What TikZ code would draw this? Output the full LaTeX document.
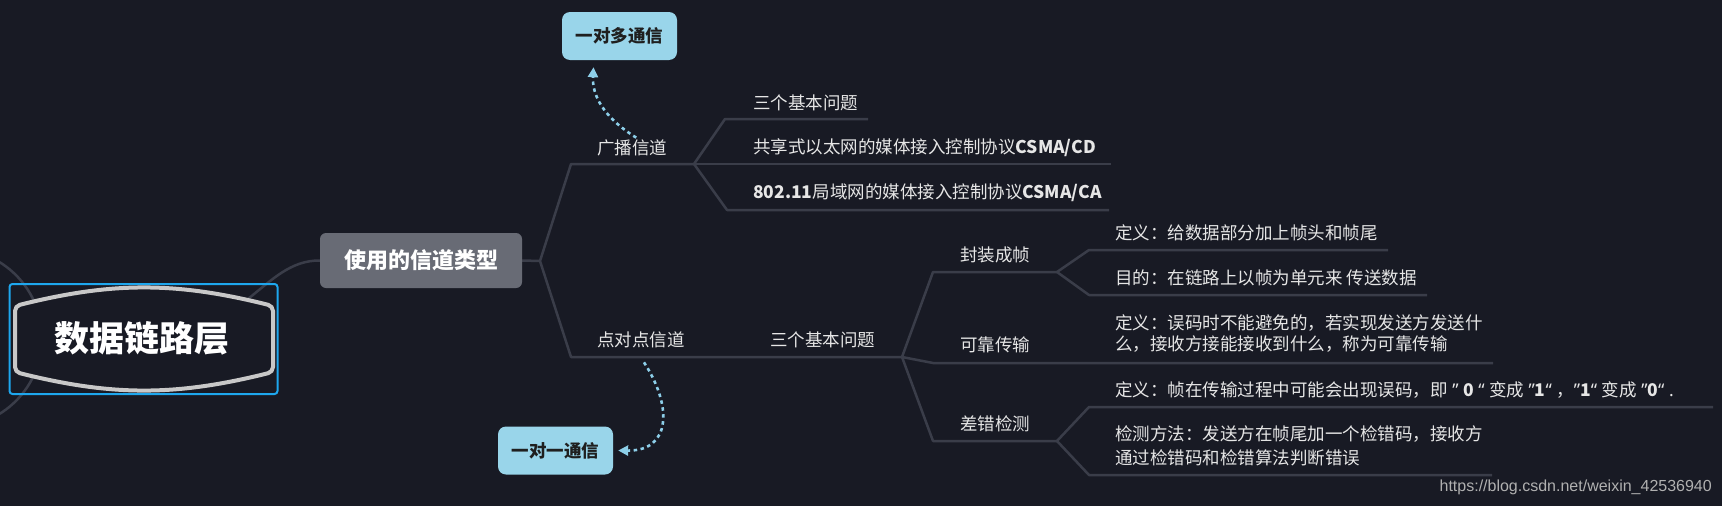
\documentclass[tikz,border=0pt]{standalone}
\usepackage{fontspec}
\setmainfont{Noto Sans CJK SC}
\newfontfamily\wmfont{Liberation Sans}
\newfontfamily\latf{Noto Sans}
\usetikzlibrary{arrows.meta,calc}
\definecolor{bg}{HTML}{181A24}
\definecolor{conncol}{HTML}{3A3D49}
\definecolor{txt}{HTML}{E6E6E6}
\definecolor{boxgray}{HTML}{686B75}
\definecolor{lblue}{HTML}{99D5EA}
\definecolor{dotblue}{HTML}{8DCFE9}
\definecolor{selblue}{HTML}{1EA7EE}
\definecolor{rim}{HTML}{C8C8C8}
\definecolor{wmcol}{HTML}{B0B0B0}
\newcommand{\qd}[1]{{\latf #1}}
\pgfdeclarelayer{back}
\pgfsetlayers{back,main}
\begin{document}
\begin{tikzpicture}[x=1pt,y=-1pt,
  conn/.style={draw=conncol,line width=2.5pt,line join=round},
  lbl/.style={anchor=west,inner sep=0pt,text=txt,font=\fontsize{17.5}{21}\selectfont},
  bluebox/.style={fill=lblue,rounded corners=8pt,minimum width=115pt,minimum height=48pt,inner sep=0pt,text=black!88,font=\bfseries\fontsize{17.5}{21}\selectfont},
  dotarrow/.style={draw=dotblue,line width=2.6pt,dash pattern=on 3.5pt off 3.5pt,-{Triangle[length=10pt,width=10pt]}}
]
\useasboundingbox (0,0) rectangle (1722,506);

% central node
\node[draw=selblue,line width=2pt,rounded corners=3pt,minimum width=268pt,minimum height=110pt,inner sep=0pt] (rootsel) at (143.5,339) {};
\draw[rim,line width=4pt,fill=bg,rounded corners=5pt] (15,340) -- (15,306) to[bend left=14] (273,306) -- (273,372) to[bend left=14] (15,372) -- cycle;
\node[text=white,inner sep=0pt,font=\bfseries\fontsize{35}{40}\selectfont] (root) at (142,338) {数据链路层};

% first level
\node[fill=boxgray,rounded corners=6pt,minimum width=202pt,minimum height=55pt,inner sep=0pt,text=white,font=\bfseries\fontsize{22}{26}\selectfont] (chtype) at (421,260.5) {使用的信道类型};

% labels
\node[lbl] (bc) at (597,148) {广播信道};
\node[lbl] (p2p) at (597,340) {点对点信道};
\node[lbl] (q1) at (753,103) {三个基本问题};
\node[lbl] (cd) at (753,148) {共享式以太网的媒体接入控制协议\textbf{CSMA/CD}};
\node[lbl] (ca) at (753,193) {\textbf{802.11}局域网的媒体接入控制协议\textbf{CSMA/CA}};
\node[lbl] (q2) at (770,340) {三个基本问题};
\node[lbl] (fz) at (960,255) {封装成帧};
\node[lbl] (kk) at (960,345) {可靠传输};
\node[lbl] (cj) at (960,424) {差错检测};
\node[lbl] (fz1) at (1115,233) {定义：给数据部分加上帧头和帧尾};
\node[lbl] (fz2) at (1115,278) {目的：在链路上以帧为单元来 传送数据};
\node[lbl,align=left,font=\fontsize{17.5}{20.5}\selectfont] (kk1) at (1115,333.5) {定义：误码时不能避免的，若实现发送方发送什\\么，接收方接能接收到什么，称为可靠传输};
\node[lbl] (cj1) at (1115,390) {定义：帧在传输过程中可能会出现误码，即\qd{ ” }\textbf{0}\qd{ “ }变成\qd{ ”}\textbf{1}\qd{“ }，\qd{”}\textbf{1}\qd{“ }变成\qd{ ”}\textbf{0}\qd{“ .}};
\node[lbl,align=left,font=\fontsize{17.5}{23.5}\selectfont] (cj2) at (1115,446) {检测方法：发送方在帧尾加一个检错码，接收方\\通过检错码和检错算法判断错误};

% floating topics
\node[bluebox] (o2m) at (619.5,36) {一对多通信};
\node[bluebox] (o2o) at (555.5,450.5) {一对一通信};

% watermark
\node[anchor=east,inner sep=0pt,text=wmcol,font=\wmfont\fontsize{16}{18}\selectfont] (wm) at (1712,487) {https://blog.csdn.net/weixin\_42536940};

% branch coordinates
\coordinate (v1) at (540,261);
\coordinate (v2) at (694,164);
\coordinate (v3) at (902,357);
\coordinate (v4) at (1057,272);
\coordinate (v5) at (1057,441);
\coordinate (bcL) at (571,164);
\coordinate (p2pL) at (571,357);
\coordinate (q1L) at (725,119);
\coordinate (q1R) at (868,119);
\coordinate (cdR) at (1111,164);
\coordinate (caL) at (727,210);
\coordinate (caR) at (1109,210);
\coordinate (fzL) at (933,272);
\coordinate (kkL) at (933,363);
\coordinate (kkR) at (1493,363);
\coordinate (cjL) at (933,441);
\coordinate (fz1L) at (1089,250);
\coordinate (fz1R) at (1388,250);
\coordinate (fz2L) at (1089,295);
\coordinate (fz2R) at (1427,295);
\coordinate (cj1L) at (1089,407);
\coordinate (cj1R) at (1713,407);
\coordinate (cj2L) at (1089,475);
\coordinate (cj2R) at (1492,475);

\begin{pgfonlayer}{back}
  \fill[bg] (0,0) rectangle (1722,506);
  \begin{scope}
    \clip (0,0) rectangle (1722,506);
    \draw[conn] (-47,338) circle[radius=89];
  \end{scope}
  \draw[conn] (root.center) .. controls (245,338) and (262,260) .. (chtype.west);
  \draw[conn] (chtype.east) -- (v1);
  \draw[conn] (v1) -- (bcL) -- (v2);
  \draw[conn] (v1) -- (p2pL) -- (v3);
  \draw[conn] (v2) -- (q1L) -- (q1R);
  \draw[conn] (v2) -- (cdR);
  \draw[conn] (v2) -- (caL) -- (caR);
  \draw[conn] (v3) -- (fzL) -- (v4);
  \draw[conn] (v3) -- (kkL) -- (kkR);
  \draw[conn] (v3) -- (cjL) -- (v5);
  \draw[conn] (v4) -- (fz1L) -- (fz1R);
  \draw[conn] (v4) -- (fz2L) -- (fz2R);
  \draw[conn] (v5) -- (cj1L) -- (cj1R);
  \draw[conn] (v5) -- (cj2L) -- (cj2R);
\end{pgfonlayer}

% dotted relation arrows
\draw[dotarrow] ($(bc.north)+(4,-2)$) .. controls (603,117) and (592,95) .. ($(o2m.south)+(-26,7)$);
\draw[dotarrow] ($(p2p.south)+(3,14)$) .. controls (672,405) and (672,451) .. ($(o2o.east)+(5,0)$);
\end{tikzpicture}
\end{document}
